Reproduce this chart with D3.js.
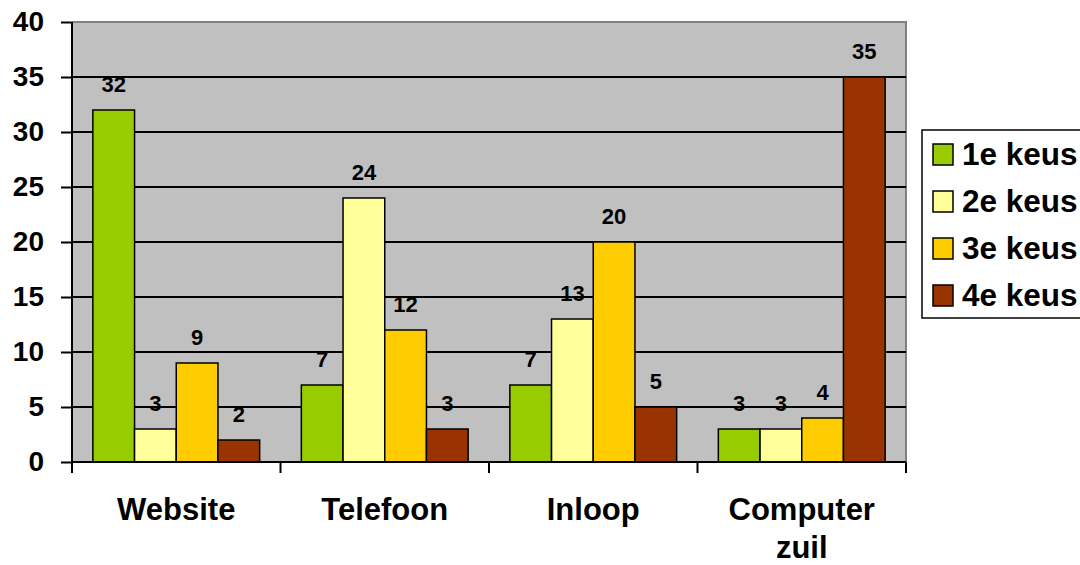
<!DOCTYPE html>
<html><head><meta charset="utf-8">
<script src="https://cdn.jsdelivr.net/npm/d3@7"></script>
<style>html,body{margin:0;padding:0;background:#fff;overflow:hidden}</style>
</head><body>
<svg id="c" width="1080" height="565"></svg>
<script>
const categories = [["Website"], ["Telefoon"], ["Inloop"], ["Computer", "zuil"]];
const series = ["1e keus", "2e keus", "3e keus", "4e keus"];
const colors = ["#99CC00", "#FFFF99", "#FFCC00", "#993300"];
const keus1 = [32, 7, 7, 3];
const keus2 = [3, 24, 13, 3];
const keus3 = [9, 12, 20, 4];
const keus4 = [2, 3, 5, 35];
const yTicks = [0, 5, 10, 15, 20, 25, 30, 35, 40];

const values = [keus1, keus2, keus3, keus4];
const font = "'Liberation Sans', Arial, sans-serif";
const svg = d3.select("#c");
const L = 72, R = 906, T = 22, B = 462;

const x0 = d3.scaleBand().domain(d3.range(categories.length)).range([L, R]).paddingInner(0).paddingOuter(0);
const x1 = d3.scaleBand().domain(d3.range(series.length)).range([0, x0.bandwidth()]).paddingInner(0).paddingOuter(0.5);
const y = d3.scaleLinear().domain([0, 40]).range([B, T]);

// plot background
svg.append("rect").attr("x", L).attr("y", T).attr("width", R - L).attr("height", B - T).attr("fill", "#C0C0C0");
// top/right border
svg.append("path").attr("d", `M${L},${T}H${R}V${B}`).attr("fill", "none").attr("stroke", "#808080").attr("stroke-width", 2);

// gridlines
svg.append("g").selectAll("line").data(yTicks.filter(t => t > 0 && t < 40)).join("line")
  .attr("x1", L).attr("x2", R).attr("y1", d => y(d)).attr("y2", d => y(d))
  .attr("stroke", "#000").attr("stroke-width", 2);

// bars
const g = svg.append("g");
categories.forEach((c, ci) => {
  series.forEach((s, si) => {
    const v = values[si][ci];
    const bx = x0(ci) + x1(si);
    g.append("rect").attr("x", bx).attr("y", y(v)).attr("width", x1.bandwidth()).attr("height", y(0) - y(v))
      .attr("fill", colors[si]).attr("stroke", "#000").attr("stroke-width", 1.5);
    g.append("text").attr("x", bx + x1.bandwidth() / 2).attr("y", y(v) - 18)
      .attr("text-anchor", "middle").attr("font-family", font).attr("font-weight", "bold").attr("font-size", 22)
      .text(v);
  });
});

// y axis
const ya = svg.append("g").attr("transform", `translate(${L},0)`)
  .call(d3.axisLeft(y).tickValues(yTicks).tickSize(11).tickPadding(17));
ya.select(".domain").attr("stroke", "#000").attr("stroke-width", 2).attr("d", `M0,${T}V${B}`);
ya.selectAll(".tick line").attr("stroke", "#000").attr("stroke-width", 2);
ya.selectAll(".tick text").attr("font-family", font).attr("font-weight", "bold").attr("font-size", 28).attr("fill", "#000");

// x axis
svg.append("line").attr("x1", L).attr("x2", R).attr("y1", B).attr("y2", B).attr("stroke", "#000").attr("stroke-width", 2);
const bounds = d3.range(categories.length + 1).map(i => i < categories.length ? x0(i) : x0(i - 1) + x0.bandwidth());
svg.append("g").selectAll("line").data(bounds).join("line")
  .attr("x1", d => d).attr("x2", d => d).attr("y1", B).attr("y2", B + 11)
  .attr("stroke", "#000").attr("stroke-width", 2);
const xl = svg.append("g");
categories.forEach((c, ci) => {
  const t = xl.append("text").attr("x", x0(ci) + x0.bandwidth() / 2).attr("y", 520)
    .attr("text-anchor", "middle").attr("font-family", font).attr("font-weight", "bold").attr("font-size", 31);
  c.forEach((line, li) => t.append("tspan").attr("x", x0(ci) + x0.bandwidth() / 2).attr("dy", li === 0 ? 0 : 38).text(line));
});

// legend
const lg = svg.append("g");
lg.append("rect").attr("x", 922).attr("y", 130).attr("width", 170).attr("height", 188)
  .attr("fill", "#fff").attr("stroke", "#000").attr("stroke-width", 1.5);
series.forEach((s, i) => {
  const yy = 144 + i * 47;
  lg.append("rect").attr("x", 933).attr("y", yy).attr("width", 20).attr("height", 21)
    .attr("fill", colors[i]).attr("stroke", "#000").attr("stroke-width", 1.5);
  lg.append("text").attr("x", 962).attr("y", yy + 21).attr("font-family", font).attr("font-weight", "bold")
    .attr("font-size", 31.5).text(s);
});
</script>
</body></html>
